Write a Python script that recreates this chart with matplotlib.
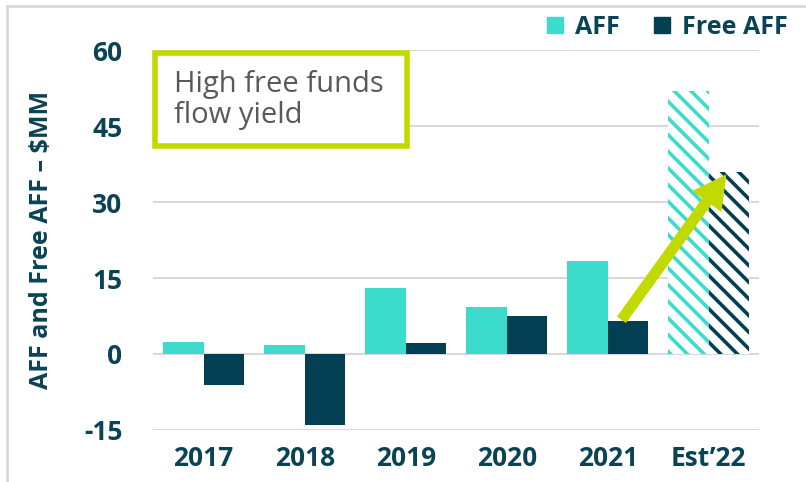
import numpy as np
import matplotlib
matplotlib.use("Agg")
import matplotlib.pyplot as plt
from matplotlib.patches import Rectangle
from matplotlib.lines import Line2D

# ---- data ----
years = ["2017", "2018", "2019", "2020", "2021", "Est\u201922"]
aff = [2.4, 1.8, 13.0, 9.3, 18.3, 51.9]
free_aff = [-6.1, -14.0, 2.2, 7.5, 6.5, 35.9]
estimate = [False, False, False, False, False, True]
y_ticks = [-15, 0, 15, 30, 45, 60]

# ---- style ----
c_aff = "#3DDBCB"
c_free = "#023F52"
c_text = "#0B4356"
c_green = "#C2D900"
c_grid = "#D9D9D9"

plt.rcParams["font.family"] = ["Open Sans", "DejaVu Sans"]
plt.rcParams["hatch.linewidth"] = 2.6
plt.rcParams["axes.unicode_minus"] = False

fig = plt.figure(figsize=(8.06, 4.82), dpi=100)
ax = fig.add_axes([0.19, 0.108, 0.752, 0.788])

x = np.arange(len(years))
w = 0.4
for i in range(len(years)):
    if estimate[i]:
        ax.bar(x[i] - w / 2, aff[i], w, facecolor="white", edgecolor=c_aff,
               linewidth=0, hatch="\\\\", zorder=2)
        ax.bar(x[i] + w / 2, free_aff[i], w, facecolor="white", edgecolor=c_free,
               linewidth=0, hatch="\\\\", zorder=2)
    else:
        ax.bar(x[i] - w / 2, aff[i], w, color=c_aff, zorder=2)
        ax.bar(x[i] + w / 2, free_aff[i], w, color=c_free, zorder=2)

ax.set_xlim(-0.5, 5.5)
ax.set_ylim(-15, 60)
ax.set_yticks(y_ticks)
ax.set_xticks(x)
ax.set_xticklabels(years)
ax.yaxis.grid(True, color=c_grid, linewidth=1.5, zorder=0)
ax.set_axisbelow(True)
for s in ax.spines.values():
    s.set_visible(False)
ax.tick_params(length=0, labelsize=19, labelcolor=c_text)
ax.tick_params(axis="x", pad=11)
ax.tick_params(axis="y", pad=22)
for lab in ax.get_xticklabels() + ax.get_yticklabels():
    lab.set_fontweight("bold")
ax.set_ylabel("AFF and Free AFF \u2013 $MM", fontsize=18, fontweight="bold",
              color=c_text)
ax.yaxis.set_label_coords(-0.163, 0.5)

# growth arrow
ax.annotate("", xy=(5.19, 35.9), xytext=(4.12, 6.3),
            arrowprops=dict(arrowstyle="simple,head_width=1.3,head_length=1.2,tail_width=0.4",
                            mutation_scale=20, color=c_green, linewidth=0),
            zorder=5)

# callout box
fig.patches.append(Rectangle((155 / 806, 1 - 146 / 482), 252 / 806, 93 / 482,
                             transform=fig.transFigure, facecolor="white",
                             edgecolor=c_green, linewidth=4, zorder=3))
fig.text(174 / 806, 1 - 100 / 482, "High free funds\nflow yield", fontsize=21,
         color="#595959", va="center", ha="left", linespacing=1.1, zorder=4)

# legend
handles = [Line2D([], [], marker="s", linestyle="", markersize=11, color=c_aff),
           Line2D([], [], marker="s", linestyle="", markersize=11, color=c_free)]
fig.legend(handles, ["AFF", "Free AFF"], loc="center right",
           bbox_to_anchor=(1.005, 1 - 27 / 482), ncol=2, frameon=False,
           handletextpad=0.2, columnspacing=1.1, handlelength=1.2,
           prop=dict(size=18, weight="bold"), labelcolor=c_text)

# light frame around the figure
fig.add_artist(Line2D([7 / 806, 7 / 806], [0, 1 - 6 / 482], color=c_grid,
                      linewidth=2, transform=fig.transFigure))
fig.add_artist(Line2D([7 / 806, 1], [1 - 6 / 482, 1 - 6 / 482], color=c_grid,
                      linewidth=2, transform=fig.transFigure))

fig.savefig("out.png", dpi=100)
